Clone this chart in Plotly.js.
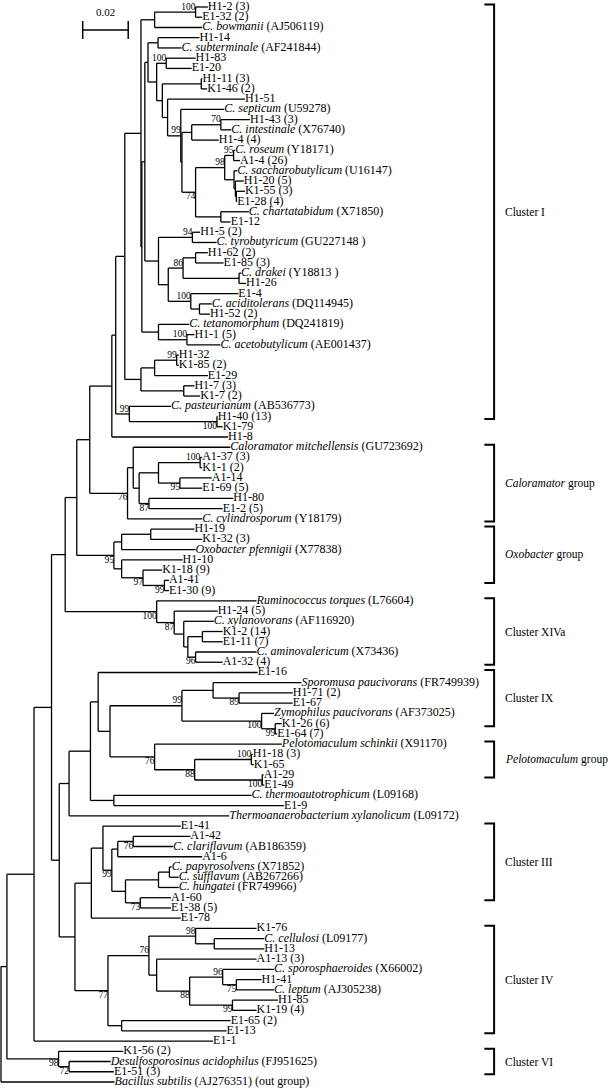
<!DOCTYPE html>
<html><head><meta charset="utf-8">
<script src="https://cdn.plot.ly/plotly-3.0.1.min.js"></script>
<style>html,body{margin:0;padding:0;background:#fff;}#chart{width:610px;height:1088px;}</style>
</head><body><div id="chart"></div>
<script>
// Tree data in Newick form. The number after ':' is the node's distance from the root
// (substitutions per site). Internal labels are bootstrap values (%); a trailing 'b' means
// the value is printed below the node.
const ciTop = "(('H1-2 (3)':0.0909,'E1-32 (2)':0.0884)100:0.0855,'C. bowmanii (AJ506119)':0.0884):0.0675";
const ciIntestinale = "(('H1-43 (3)':0.1094,'C. intestinale (X76740)':0.1012)70:0.0966,'H1-4 (4)':0.0957):0.0838";
const ciRoseum = "(('C. roseum (Y18171)':0.1029,'A1-4 (26)':0.1050)95:0.1022,('C. saccharobutylicum (U16147)':0.1038,('H1-20 (5)':0.1067,('K1-55 (3)':0.1072,'E1-28 (4)':0.1038):0.1034):0.1030):0.1024)98:0.0983";
const ciLadder = "(('H1-14':0.0872,'C. subterminale (AF241844)':0.0793):0.0690,(('H1-83':0.0855,'E1-20':0.0838)100:0.0726,(('H1-11 (3)':0.0885,'K1-46 (2)':0.0906):0.0880,('H1-51':0.1072,('C. septicum (U59278)':0.0981,({ciIntestinale},({ciRoseum},('C. chartatabidum (X71850)':0.1089,'E1-12':0.1009):0.0966)74b:0.0855):0.0795)99:0.0790):0.0732):0.0709):0.0684):0.0646";
const ciTyro = "(('H1-5 (2)':0.0875,'C. tyrobutyricum (GU227148 )':0.0947)94:0.0841,((('H1-62 (2)':0.0909,'E1-85 (3)':0.0978):0.0855,('C. drakei (Y18813 )':0.1055,'H1-26':0.1077):0.1046)86:0.0800,('E1-4':0.1043,('C. aciditolerans (DQ114945)':0.0926,'H1-52 (2)':0.0918):0.0872)100:0.0834):0.0735):0.0692";
const ciTetano = "('C. tetanomorphum (DQ241819)':0.0827,('H1-1 (5)':0.0850,'C. acetobutylicum (AE001437)':0.0964)100:0.0817):0.0692";
const ciLower = "((('H1-32':0.0781,'K1-85 (2)':0.0781)99:0.0772,'E1-29':0.0909):0.0675,('H1-7 (3)':0.0850,'K1-7 (2)':0.0875):0.0803):0.0615";
const ciPasteur = "('C. pasteurianum (AB536773)':0.0747,('H1-40 (13)':0.0952,'K1-79':0.0974)100b:0.0949)99:0.0564";
const clusterI = "(((({ciTop},(({ciLadder},{ciTyro}):0.0632,{ciTetano}):0.0619):0.0615,{ciLower}):0.0544,{ciPasteur}):0.0504,'H1-8':0.0998):0.0487";
const caloramator = "(('Caloramator mitchellensis (GU723692)':0.1007,((('A1-37 (3)':0.0884,'K1-1 (2)':0.0884)100:0.0875,('A1-14':0.0926,'E1-69 (5)':0.0884)95b:0.0786):0.0692,('H1-80':0.1021,'E1-2 (5)':0.0974)87b:0.0650):0.0607):0.0581,'C. cylindrosporum (Y18179)':0.0884)76b:0.0556";
const oxobacter = "((('H1-19':0.0850,'K1-32 (3)':0.0884):0.0658,'Oxobacter pfennigii (X77838)':0.0855):0.0530,('H1-10':0.0798,('K1-18 (9)':0.0708,('A1-41':0.0738,'E1-30 (9)':0.0738)99b:0.0718)97b:0.0624):0.0530)95b:0.0496";
const clusterXIVa = "('Ruminococcus torques (L76604)':0.1123,('H1-24 (5)':0.0952,('C. xylanovorans (AF116920)':0.0935,(('K1-2 (14)':0.0974,'E1-11 (7)':0.0974):0.0885,('C. aminovalericum (X73436)':0.1123,'A1-32 (4)':0.0974)96b:0.0855):0.0821):0.0803)87b:0.0761)100b:0.0684";
const clusterIX = "(('Sporomusa paucivorans (FR749939)':0.1320,('H1-71 (2)':0.1282,'E1-67':0.1282)89b:0.1046):0.0932,('Zymophilus paucivorans (AF373025)':0.1200,('K1-26 (6)':0.1234,'E1-64 (7)':0.1214)99b:0.1205)100b:0.1145)99:0.0795";
const pelotomaculum = "('Pelotomaculum schinkii (X91170)':0.1234,(('H1-18 (3)':0.1106,'K1-65':0.1111)100:0.1100,('A1-29':0.1154,'E1-49':0.1157)100b:0.1148)88b:0.0851)76b:0.0675";
const thermo = "('C. thermoautotrophicum (L09168)':0.1101,'E1-9':0.1243):0.0496";
const clusterIII = "(('E1-41':0.0790,((('A1-42':0.0832,'C. clariflavum (AB186359)':0.0756)76b:0.0581,'A1-6':0.0884):0.0513,((('C. papyrosolvens (X71852)':0.0750,'C. sufflavum (AB267266)':0.0781):0.0740,'C. hungatei (FR749966)':0.0781):0.0692,('A1-60':0.0747,'E1-38 (5)':0.0747)73b:0.0612):0.0547)99b:0.0487):0.0448,'E1-78':0.0790):0.0397";
const clusterIV = "((('K1-76':0.1123,('C. cellulosi (L09177)':0.1157,'H1-13':0.1157):0.0937)98:0.0855,('A1-13 (3)':0.1123,(('C. sporosphaeroides (X66002)':0.1200,('H1-41':0.1145,'C. leptum (AJ305238)':0.1200)75b:0.1034)96:0.0974,('H1-85':0.1217,'K1-19 (4)':0.1123)99b:0.1017)88b:0.0829):0.0684)76:0.0650,('E1-65 (2)':0.1009,'E1-13':0.0991):0.0530)77b:0.0470";
const clusterVI = "('K1-56 (2)':0.0537,('Desulfosporosinus acidophilus (FJ951625)':0.0482,'E1-51 (3)':0.0496)72b:0.0299)98b:0.0253";
const backbone = "((((((({clusterI},{caloramator}):0.0390,{oxobacter}):0.0333,{clusterXIVa}):0.0282,(((('E1-16':0.1128,({clusterIX},{pelotomaculum}):0.0479):0.0427,{thermo}):0.0393,'Thermoanaerobacterium xylanolicum (L09172)':0.1003):0.0299,({clusterIII},{clusterIV}):0.0325):0.0256):0.0222,'E1-1':0.0932):0.0145,{clusterVI}):0.0026,'Bacillus subtilis (AJ276351) (out group)':0.0499):0";

// Bracketed groups on the right
const groupNames = ['Cluster I','<i>Caloramator</i> group','<i>Oxobacter</i> group','Cluster XIVa','Cluster IX','<i>Pelotomaculum</i> group','Cluster III','Cluster IV','Cluster VI'];
const groupFirst = ['H1-2 (3)','Caloramator mitchellensis (GU723692)','H1-19','Ruminococcus torques (L76604)','E1-16','Pelotomaculum schinkii (X91170)','E1-41','K1-76','K1-56 (2)'];
const groupLast = ['H1-40 (13)','C. cylindrosporum (Y18179)','A1-41','A1-32 (4)','K1-26 (6)','A1-29','A1-60','E1-13','E1-51 (3)'];
const scaleBarLength = 0.02;

// ---- build ----
const subtrees = {ciTop, ciIntestinale, ciRoseum, ciLadder, ciTyro, ciTetano, ciLower, ciPasteur, clusterI, caloramator, oxobacter, clusterXIVa, clusterIX, pelotomaculum, thermo, clusterIII, clusterIV, clusterVI};
let nwk = backbone;
while (/\{\w+\}/.test(nwk)) nwk = nwk.replace(/\{(\w+)\}/g, (_, k) => subtrees[k]);

function parse(s) {
  let i = 0;
  function node() {
    const n = {children: []};
    if (s[i] === '(') {
      i++; n.children.push(node());
      while (s[i] === ',') { i++; n.children.push(node()); }
      i++;
    }
    if (s[i] === "'") { const j = s.indexOf("'", i + 1); n.name = s.slice(i + 1, j); i = j + 1; }
    else { const m = /^[^:,();]*/.exec(s.slice(i))[0]; n.label = m; i += m.length; }
    if (s[i] === ':') { i++; const m = /^[-0-9.eE]+/.exec(s.slice(i))[0]; n.depth = +m; i += m.length; }
    return n;
  }
  return node();
}
const root = parse(nwk);
const leaves = [];
function layout(n) {
  if (!n.children.length) { n.y = leaves.length; leaves.push(n); }
  else { n.children.forEach(layout); n.y = (n.children[0].y + n.children[n.children.length - 1].y) / 2; }
}
layout(root);
const lx = [], ly = [];
const supA = {x: [], y: [], t: []}, supB = {x: [], y: [], t: []};
function walk(n) {
  if (!n.children.length) return;
  const a = n.children[0].y, b = n.children[n.children.length - 1].y;
  lx.push(n.depth, n.depth, null); ly.push(a, b, null);
  n.children.forEach(c => { lx.push(n.depth, c.depth, null); ly.push(c.y, c.y, null); walk(c); });
  if (n.label) {
    const below = n.label.endsWith('b');
    const t = n.label.replace('b', '');
    const tgt = below ? supB : supA;
    tgt.x.push(n.depth); tgt.y.push(n.y); tgt.t.push(t);
  }
}
walk(root);

function fmt(name) {
  const m = name.match(/^((?:C\.|[A-Z][a-z]+) [a-z]+)(.*)$/);
  return m ? '<i>' + m[1] + '</i>' + m[2] : name;
}
const leafY = {};
leaves.forEach(l => leafY[l.name] = l.y);

const FONT = 'Liberation Serif, Times New Roman, serif';
const traces = [
  {type: 'scatter', mode: 'lines', x: lx, y: ly, line: {color: '#000', width: 1.3}, hoverinfo: 'skip', connectgaps: false},
  {type: 'scatter', mode: 'text', x: leaves.map(l => l.depth), y: leaves.map(l => l.y), text: leaves.map(l => fmt(l.name)),
   textposition: 'middle right', textfont: {family: FONT, size: 12, color: '#000'}, hoverinfo: 'skip'},
  {type: 'scatter', mode: 'text', x: supA.x, y: supA.y, text: supA.t, textposition: 'top left',
   textfont: {family: FONT, size: 9.5, color: '#000'}, hoverinfo: 'skip'},
  {type: 'scatter', mode: 'text', x: supB.x, y: supB.y, text: supB.t, textposition: 'bottom left',
   textfont: {family: FONT, size: 9.5, color: '#000'}, hoverinfo: 'skip'}
];

const shapes = [], annotations = [];
const BX = 0.810, BT = 0.794, PAD = 0.25;
groupNames.forEach((g, k) => {
  const top = leafY[groupFirst[k]] - PAD, bot = leafY[groupLast[k]] + PAD;
  shapes.push({type: 'path', xref: 'paper', yref: 'y',
    path: `M ${BT},${top} L ${BX},${top} L ${BX},${bot} L ${BT},${bot}`,
    line: {color: '#000', width: 2}});
  annotations.push({xref: 'paper', yref: 'y', x: 0.824, y: (top + bot) / 2, text: g, showarrow: false,
    xanchor: 'left', yanchor: 'middle', font: {family: FONT, size: 11.5, color: '#000'}});
});
// scale bar
const sb0 = 0.0359, sbY = 1 - 30 / 1088, tick = 9 / 1088;
shapes.push({type: 'line', xref: 'x', yref: 'paper', x0: sb0, x1: sb0 + scaleBarLength, y0: sbY, y1: sbY, line: {color: '#000', width: 1.5}});
shapes.push({type: 'line', xref: 'x', yref: 'paper', x0: sb0, x1: sb0, y0: sbY - tick, y1: sbY + tick, line: {color: '#000', width: 1.5}});
shapes.push({type: 'line', xref: 'x', yref: 'paper', x0: sb0 + scaleBarLength, x1: sb0 + scaleBarLength, y0: sbY - tick, y1: sbY + tick, line: {color: '#000', width: 1.5}});
annotations.push({xref: 'x', yref: 'paper', x: sb0 + scaleBarLength / 2, y: 1 - 12 / 1088, text: String(scaleBarLength),
  showarrow: false, xanchor: 'center', yanchor: 'middle', font: {family: FONT, size: 11, color: '#000'}});

const nLeaves = leaves.length;
const firstPx = 7, lastPx = 1082;
const pxPerLeaf = (lastPx - firstPx) / (nLeaves - 1);
const layoutObj = {
  width: 610, height: 1088, margin: {l: 0, r: 0, t: 0, b: 0},
  paper_bgcolor: '#fff', plot_bgcolor: '#fff', showlegend: false,
  xaxis: {visible: false, range: [-0.00044, 0.2676], fixedrange: true},
  yaxis: {visible: false, range: [(1088 - firstPx) / pxPerLeaf, -firstPx / pxPerLeaf], fixedrange: true},
  shapes, annotations
};
Plotly.newPlot('chart', traces, layoutObj, {staticPlot: true, displayModeBar: false});
</script>
</body></html>
